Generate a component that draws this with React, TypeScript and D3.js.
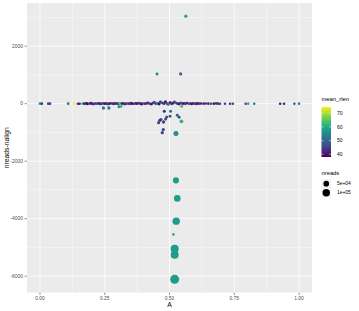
import React from 'react';
import * as d3 from 'd3';

// ---- data ----
const A = [
  // left sparse baseline
  0.000, 0.007, 0.032, 0.039, 0.109, 0.131, 0.146, 0.153, 0.165,
  // dense baseline
  0.172, 0.178, 0.183, 0.190, 0.196, 0.201, 0.207, 0.214, 0.219, 0.226,
  0.232, 0.237, 0.243, 0.250, 0.256, 0.261, 0.268, 0.274, 0.280, 0.285,
  0.291, 0.298, 0.303, 0.309, 0.316, 0.322, 0.327, 0.333, 0.340, 0.346,
  0.351, 0.357, 0.364, 0.370, 0.375, 0.382, 0.388, 0.393, 0.399, 0.406,
  0.412, 0.417, 0.423, 0.430, 0.436, 0.441, 0.447, 0.454, 0.460, 0.465,
  0.471, 0.478, 0.484, 0.489, 0.495, 0.502, 0.508, 0.513, 0.519, 0.526,
  0.532, 0.537, 0.543, 0.550, 0.556, 0.561, 0.567, 0.574, 0.580, 0.585,
  0.591, 0.598, 0.604, 0.609, 0.615, 0.622,
  // right dense + sparse
  0.632, 0.641, 0.650, 0.660, 0.671, 0.680, 0.687,
  0.695, 0.714, 0.734, 0.745, 0.794, 0.804, 0.827, 0.927, 0.942, 0.982, 1.000,
  // just below baseline
  0.245, 0.266, 0.305, 0.313, 0.547,
  // blue cluster
  0.467, 0.477, 0.489, 0.463, 0.502, 0.476, 0.472, 0.480, 0.504, 0.530, 0.537, 0.546, 0.458, 0.485,
  // lower column
  0.525, 0.525, 0.530, 0.526, 0.515, 0.520, 0.520, 0.520,
  // above
  0.563, 0.452, 0.543,
];

const nDiff = [
  0, 0, 0, 0, 0, 0, 0, 0, 0,
  0, 10, -5, 0, 15, 0, -10, 5, 0, 10,
  0, -5, 10, 0, 5, -10, 0, 15, 0, -5,
  10, 0, -5, 20, 0, 10, -10, 0, 5, 0,
  15, 0, -5, 10, 0, 20, 0, -10, 5, 0,
  10, 30, 0, -15, 20, 50, 0, 10, -10, 60,
  30, 0, 70, 10, -20, 40, 0, 15, 60, 20,
  0, -10, 30, 0, 10, -5, 20, 0, 10, -10,
  5, 0, -5, 10, 0, 5,
  0, 5, 0, -5, 0, 10, 0,
  0, 0, 0, 0, 0, 0, 0, 0, 0, 0, 0,
  -150, -150, -110, -95, -90,
  -554, -637, -463, -578, -439, -902, -1007, -265, -265, -404, -474, -614, -660, -530,
  -1041, -2668, -3295, -4086, -4549, -5047, -5256, -6110,
  3044, 1034, 1034,
];

const meanRlen = [
  60, 42, 44, 46, 52, 74.5, 44, 40, 60,
  40, 44, 38, 46, 42, 39, 45, 41, 48, 43,
  40, 44, 47, 39, 42, 45, 38, 43, 46, 41,
  44, 40, 47, 66, 42, 39, 45, 43, 48, 41,
  44, 38, 46, 42, 40, 45, 43, 39, 47, 41,
  44, 42, 46, 40, 43, 48, 45, 53, 39, 44,
  47, 42, 40, 46, 52, 38, 45, 41, 44, 49,
  42, 40, 46, 43, 39, 45, 41, 44, 47, 40,
  42, 46, 43, 39, 45, 41,
  40, 44, 42, 46, 40, 44, 42,
  46, 44, 42, 46, 44, 62, 52, 40, 42, 48, 55,
  53, 53, 55, 63, 64,
  46, 45, 47, 44, 47, 46, 45, 42, 52, 48, 46, 62, 45, 46,
  56, 58, 58, 58, 63, 58, 58, 58,
  59, 55, 49,
];

const nReads = [
  5000, 4000, 4000, 4000, 4000, 5000, 3000, 3000, 4000,
  5000, 4000, 6000, 3000, 5000, 4000, 6000, 3000, 5000, 4000,
  6000, 5000, 3000, 4000, 6000, 5000, 4000, 3000, 5000, 6000,
  4000, 5000, 6000, 5000, 4000, 3000, 6000, 5000, 4000, 6000,
  5000, 4000, 3000, 6000, 5000, 4000, 6000, 5000, 3000, 4000,
  6000, 5000, 4000, 6000, 5000, 8000, 4000, 9000, 5000, 6000,
  5000, 4000, 7000, 5000, 8000, 4000, 6000, 5000, 7000, 4000,
  5000, 6000, 4000, 5000, 6000, 4000, 5000, 3000, 6000, 4000,
  5000, 4000, 6000, 3000, 5000, 4000,
  4000, 3000, 4000, 3000, 4000, 3000, 4000,
  3000, 3000, 3000, 3000, 3000, 4000, 3000, 3000, 3000, 3000, 4000,
  9000, 9000, 6000, 6000, 8000,
  8000, 9000, 7000, 8000, 6000, 9000, 9000, 7000, 7000, 6000, 6000, 14000, 8000, 7000,
  35000, 58000, 74000, 99000, 6000, 120000, 120000, 160000,
  8000, 6000, 8000,
];

const xTicks = [0, 0.25, 0.5, 0.75, 1];
const xTickLabels = ['0.00', '0.25', '0.50', '0.75', '1.00'];
const yTicks = [2000, 0, -2000, -4000, -6000];
const yMinor = [3000, 1000, -1000, -3000, -5000];
const xMinor = [0.125, 0.375, 0.625, 0.875];
const rlenTicks = [40, 50, 60, 70];
const sizeBreaks = [50000, 100000];
const sizeLabels = ['5e+04', '1e+05'];

const FONT = 'Liberation Sans';

export default function App() {
  const W = 359, H = 311;
  const pl = 27, pr = 312, pt = 3, pb = 292.5;

  const xExt = d3.extent(A) as [number, number];
  const yExt = d3.extent(nDiff) as [number, number];
  const xPad = (xExt[1] - xExt[0]) * 0.05;
  const yPad = (yExt[1] - yExt[0]) * 0.05;
  const x = d3.scaleLinear().domain([xExt[0] - xPad, xExt[1] + xPad]).range([pl, pr]);
  const y = d3.scaleLinear().domain([yExt[0] - yPad, yExt[1] + yPad]).range([pb, pt]);

  const rlenExt = d3.extent(meanRlen) as [number, number];
  const color = d3.scaleSequential(d3.interpolateViridis).domain(rlenExt);
  const r = d3.scaleSqrt().domain([0, d3.max(nReads) as number]).range([0.75, 4.5]);

  // colorbar
  const cbX = 321.5, cbW = 9.5, cbTop = 107, cbBot = 157;
  const cbY = d3.scaleLinear().domain(rlenExt).range([cbBot, cbTop]);
  const stops = d3.range(0, 1.0001, 0.1);

  const sizeRowY = [183.7, 192.7];
  const keyX = 321.5, keyW = 9.5;

  return (
    <svg width={W} height={H} style={{ position: 'absolute', left: 0, top: 0, background: '#fff' }}>
      <defs>
        <linearGradient id="cb" x1="0" y1="1" x2="0" y2="0">
          {stops.map((s) => (
            <stop key={s} offset={`${s * 100}%`} stopColor={d3.interpolateViridis(s)} />
          ))}
        </linearGradient>
      </defs>
      <rect x={0} y={0} width={W} height={H} fill="#fff" />
      <rect x={pl} y={pt} width={pr - pl} height={pb - pt} fill="#ebebeb" />
      {xMinor.map((v) => (
        <line key={'xm' + v} x1={x(v)} x2={x(v)} y1={pt} y2={pb} stroke="#fff" strokeWidth={0.4} />
      ))}
      {yMinor.map((v) => (
        <line key={'ym' + v} x1={pl} x2={pr} y1={y(v)} y2={y(v)} stroke="#fff" strokeWidth={0.4} />
      ))}
      {xTicks.map((v) => (
        <line key={'xg' + v} x1={x(v)} x2={x(v)} y1={pt} y2={pb} stroke="#fff" strokeWidth={0.8} />
      ))}
      {yTicks.map((v) => (
        <line key={'yg' + v} x1={pl} x2={pr} y1={y(v)} y2={y(v)} stroke="#fff" strokeWidth={0.8} />
      ))}
      {A.map((a, i) => (
        <circle key={i} cx={x(a)} cy={y(nDiff[i])} r={r(nReads[i])} fill={color(meanRlen[i])} />
      ))}
      {/* axes */}
      {xTicks.map((v, i) => (
        <g key={'xt' + v}>
          <line x1={x(v)} x2={x(v)} y1={pb} y2={pb + 2.5} stroke="#333" strokeWidth={0.5} />
          <text x={x(v)} y={pb + 7.8} textAnchor="middle" fontFamily={FONT} fontSize={4.9} fill="#4d4d4d">
            {xTickLabels[i]}
          </text>
        </g>
      ))}
      {yTicks.map((v) => (
        <g key={'yt' + v}>
          <line x1={pl - 2.5} x2={pl} y1={y(v)} y2={y(v)} stroke="#333" strokeWidth={0.5} />
          <text x={pl - 4} y={y(v)} dy="0.35em" textAnchor="end" fontFamily={FONT} fontSize={4.9} fill="#4d4d4d">
            {d3.format('d')(v).replace('−', '-')}
          </text>
        </g>
      ))}
      <text x={(pl + pr) / 2} y={306.5} textAnchor="middle" fontFamily={FONT} fontSize={6.8} fill="#000">A</text>
      <text transform={`translate(9, ${(pt + pb) / 2}) rotate(-90)`} textAnchor="middle" fontFamily={FONT} fontSize={6.8} fill="#000">
        nreads-nalign
      </text>
      {/* colour legend */}
      <text x={cbX} y={101} fontFamily={FONT} fontSize={5.8} fill="#000">mean_rlen</text>
      <rect x={cbX} y={cbTop} width={cbW} height={cbBot - cbTop} fill="url(#cb)" />
      {rlenTicks.map((t) => (
        <g key={'cb' + t}>
          <line x1={cbX} x2={cbX + 2} y1={cbY(t)} y2={cbY(t)} stroke="#fff" strokeWidth={0.5} />
          <line x1={cbX + cbW - 2} x2={cbX + cbW} y1={cbY(t)} y2={cbY(t)} stroke="#fff" strokeWidth={0.5} />
          <text x={cbX + cbW + 6} y={cbY(t)} dy="0.35em" fontFamily={FONT} fontSize={4.9} fill="#000">{t}</text>
        </g>
      ))}
      {/* size legend */}
      <text x={keyX} y={175} fontFamily={FONT} fontSize={5.8} fill="#000">nreads</text>
      {sizeBreaks.map((b, i) => (
        <g key={'sz' + b}>
          <rect x={keyX} y={sizeRowY[i] - 4.5} width={keyW} height={9} fill="#f2f2f2" />
          <circle cx={keyX + keyW / 2} cy={sizeRowY[i]} r={r(b)} fill="#000" />
          <text x={keyX + keyW + 6} y={sizeRowY[i]} dy="0.35em" fontFamily={FONT} fontSize={4.9} fill="#000">
            {sizeLabels[i]}
          </text>
        </g>
      ))}
    </svg>
  );
}
